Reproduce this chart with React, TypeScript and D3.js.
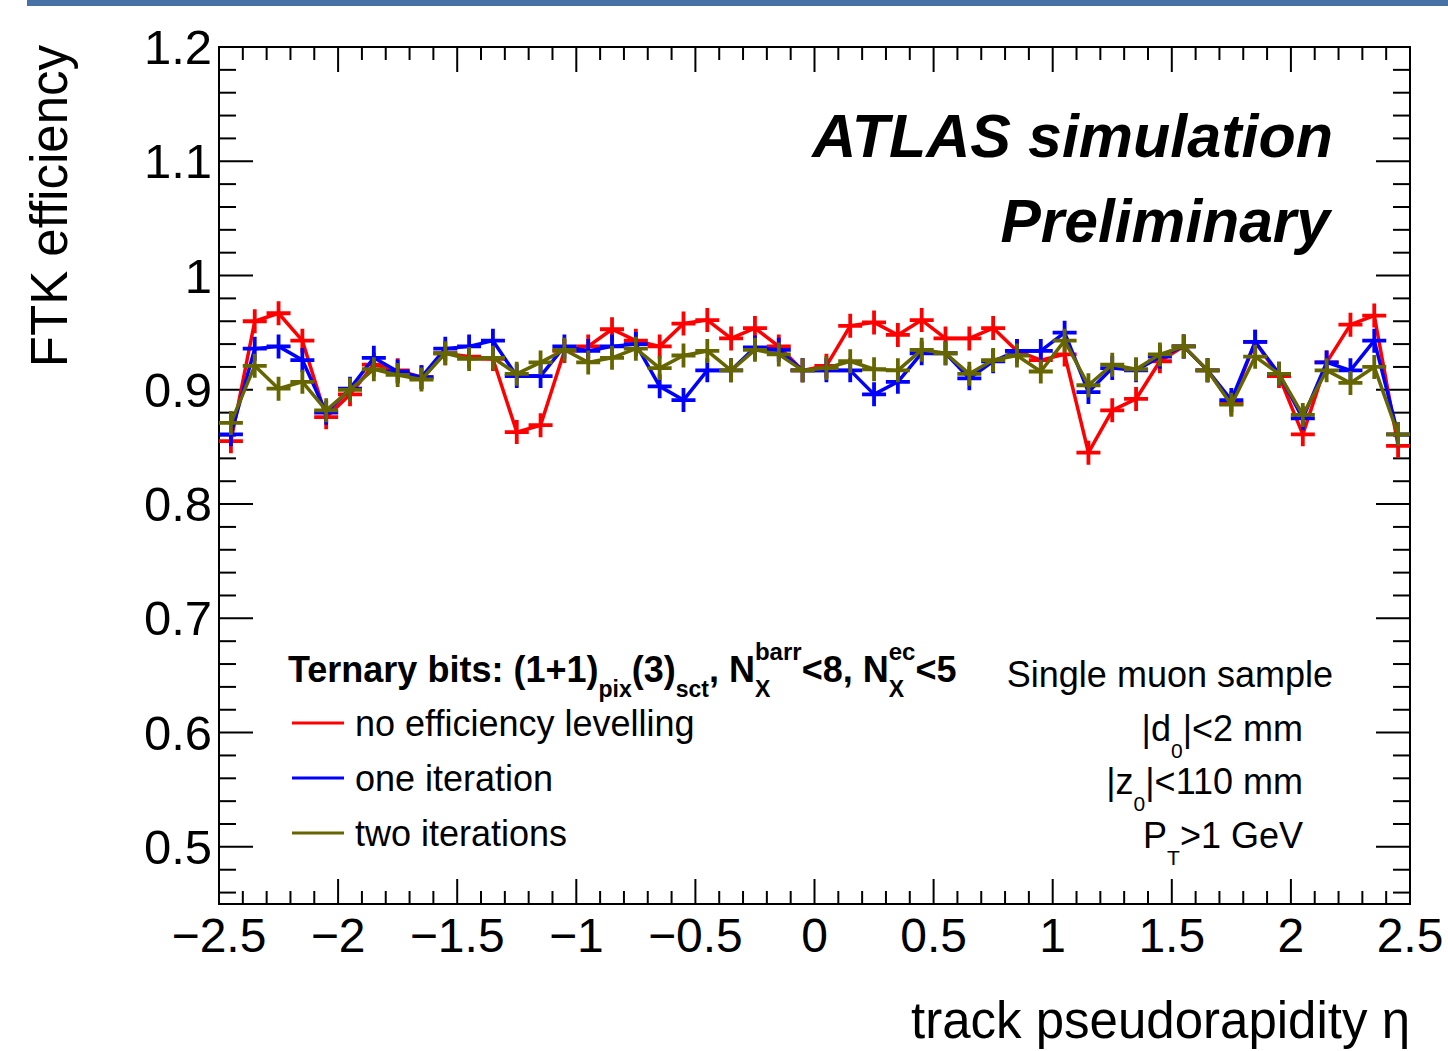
import React, { useEffect, useRef } from 'react';
import * as d3 from 'd3';

// bin centres in eta
const etaCenters = [
  -2.45, -2.35, -2.25, -2.15, -2.05, -1.95, -1.85, -1.75, -1.65, -1.55,
  -1.45, -1.35, -1.25, -1.15, -1.05, -0.95, -0.85, -0.75, -0.65, -0.55,
  -0.45, -0.35, -0.25, -0.15, -0.05, 0.05, 0.15, 0.25, 0.35, 0.45,
  0.55, 0.65, 0.75, 0.85, 0.95, 1.05, 1.15, 1.25, 1.35, 1.45,
  1.55, 1.65, 1.75, 1.85, 1.95, 2.05, 2.15, 2.25, 2.35, 2.45,
];

const noLevelling = [
  0.855, 0.960, 0.967, 0.943, 0.876, 0.896, 0.922, 0.917, 0.911, 0.932,
  0.929, 0.927, 0.863, 0.869, 0.934, 0.938, 0.953, 0.943, 0.938, 0.958,
  0.961, 0.945, 0.954, 0.938, 0.917, 0.921, 0.956, 0.959, 0.948, 0.961,
  0.945, 0.945, 0.954, 0.934, 0.926, 0.931, 0.845, 0.882, 0.892, 0.925,
  0.938, 0.917, 0.888, 0.942, 0.912, 0.861, 0.924, 0.957, 0.965, 0.851,
];

const oneIteration = [
  0.861, 0.936, 0.938, 0.926, 0.880, 0.901, 0.928, 0.916, 0.911, 0.936,
  0.938, 0.943, 0.912, 0.912, 0.938, 0.934, 0.938, 0.940, 0.903, 0.891,
  0.917, 0.917, 0.937, 0.935, 0.917, 0.917, 0.917, 0.896, 0.907, 0.932,
  0.932, 0.910, 0.925, 0.934, 0.934, 0.950, 0.898, 0.919, 0.917, 0.929,
  0.938, 0.917, 0.891, 0.942, 0.914, 0.875, 0.924, 0.917, 0.943, 0.861,
];

const twoIterations = [
  0.871, 0.921, 0.901, 0.907, 0.882, 0.900, 0.918, 0.913, 0.909, 0.932,
  0.927, 0.928, 0.914, 0.924, 0.935, 0.924, 0.928, 0.936, 0.919, 0.930,
  0.934, 0.917, 0.935, 0.931, 0.917, 0.919, 0.925, 0.918, 0.917, 0.935,
  0.932, 0.914, 0.926, 0.930, 0.916, 0.943, 0.904, 0.922, 0.918, 0.931,
  0.938, 0.917, 0.887, 0.929, 0.914, 0.878, 0.917, 0.906, 0.920, 0.861,
];

const seriesNames = ['no efficiency levelling', 'one iteration', 'two iterations'];
const seriesColors = ['#ff0000', '#0000ff', '#666600'];

const xMajorTicks = [-2.5, -2, -1.5, -1, -0.5, 0, 0.5, 1, 1.5, 2, 2.5];
const xTickLabels = ['\u22122.5', '\u22122', '\u22121.5', '\u22121', '\u22120.5', '0', '0.5', '1', '1.5', '2', '2.5'];
const yMajorTicks = [0.5, 0.6, 0.7, 0.8, 0.9, 1.0, 1.1, 1.2];
const yTickLabels = ['0.5', '0.6', '0.7', '0.8', '0.9', '1', '1.1', '1.2'];

const FONT = "'Liberation Sans', Arial, Helvetica, sans-serif";

// draw a run of text pieces with sub/superscripts, measuring as we go
function richText(parent, x, y, parts, opts) {
  const grp = parent.append('g')
    .attr('font-family', FONT)
    .attr('font-size', opts.size)
    .attr('font-weight', opts.weight || 'normal')
    .attr('fill', '#000');
  let cx = 0;
  let prevX = 0;
  parts.forEach(p => {
    const startX = p.stack ? prevX : cx;
    const el = grp.append('text')
      .attr('x', startX)
      .attr('y', p.dy || 0)
      .attr('font-size', p.size || opts.size)
      .text(p.t);
    const w = el.node().getComputedTextLength();
    if (p.stack) {
      cx = Math.max(cx, startX + w);
    } else {
      prevX = startX;
      cx = startX + w;
    }
  });
  const tx = opts.anchor === 'end' ? x - cx : x;
  grp.attr('transform', `translate(${tx},${y})`);
  return grp;
}

const App = () => {
  const svgRef = useRef(null);

  useEffect(() => {
    const svg = d3.select(svgRef.current);
    svg.selectAll('*').remove();

    const left = 219, right = 1410, top = 47, bottom = 904;

    const xScale = d3.scaleLinear().domain([-2.5, 2.5]).range([left, right]);
    const yScale = d3.scaleLinear().domain([0.45, 1.2]).range([bottom, top]);

    // blue band at top
    svg.append('rect')
      .attr('x', 27).attr('y', 0)
      .attr('width', 1448 - 27).attr('height', 6)
      .attr('fill', '#4872a5');

    // ticks
    const xMinor = d3.range(-2.5, 2.5001, 0.1).map(v => +v.toFixed(2));
    const yMinor = d3.range(0.46, 1.2001, 0.02).map(v => +v.toFixed(2));
    const isMajor = (v, step) => Math.abs(v / step - Math.round(v / step)) < 1e-6;

    const ticks = svg.append('g').attr('stroke', '#000').attr('stroke-width', 2);
    xMinor.forEach(v => {
      const len = isMajor(v, 0.5) ? 25 : 13;
      const px = xScale(v);
      ticks.append('line').attr('x1', px).attr('x2', px).attr('y1', bottom).attr('y2', bottom - len);
      ticks.append('line').attr('x1', px).attr('x2', px).attr('y1', top).attr('y2', top + len);
    });
    yMinor.forEach(v => {
      const len = isMajor(v, 0.1) ? 34 : 17;
      const py = yScale(v);
      ticks.append('line').attr('x1', left).attr('x2', left + len).attr('y1', py).attr('y2', py);
      ticks.append('line').attr('x1', right).attr('x2', right - len).attr('y1', py).attr('y2', py);
    });

    // frame
    svg.append('rect')
      .attr('x', left).attr('y', top)
      .attr('width', right - left).attr('height', bottom - top)
      .attr('fill', 'none')
      .attr('stroke', '#000')
      .attr('stroke-width', 2);

    // tick labels
    svg.append('g')
      .selectAll('text')
      .data(xMajorTicks)
      .enter()
      .append('text')
      .attr('x', d => xScale(d))
      .attr('y', 952)
      .attr('text-anchor', 'middle')
      .attr('font-family', FONT)
      .attr('font-size', 48)
      .text((d, i) => xTickLabels[i]);

    svg.append('g')
      .selectAll('text')
      .data(yMajorTicks)
      .enter()
      .append('text')
      .attr('x', 212)
      .attr('y', d => yScale(d) + 17)
      .attr('text-anchor', 'end')
      .attr('font-family', FONT)
      .attr('font-size', 49)
      .text((d, i) => yTickLabels[i]);

    // axis titles
    svg.append('text')
      .attr('transform', 'translate(67,45) rotate(-90)')
      .attr('text-anchor', 'end')
      .attr('font-family', FONT)
      .attr('font-size', 51)
      .text('FTK efficiency');

    svg.append('text')
      .attr('x', 1410)
      .attr('y', 1038)
      .attr('text-anchor', 'end')
      .attr('font-family', FONT)
      .attr('font-size', 51)
      .text('track pseudorapidity \u03b7');

    // series
    const allSeries = [noLevelling, oneIteration, twoIterations];
    const line = d3.line()
      .x((d, i) => xScale(etaCenters[i]))
      .y(d => yScale(d));

    allSeries.forEach((vals, s) => {
      const g = svg.append('g');
      g.append('path')
        .datum(vals)
        .attr('fill', 'none')
        .attr('stroke', seriesColors[s])
        .attr('stroke-width', 3.5)
        .attr('stroke-linejoin', 'round')
        .attr('d', line);
      g.selectAll('.mk')
        .data(vals)
        .enter()
        .append('path')
        .attr('class', 'mk')
        .attr('d', (d, i) => {
          const cx = xScale(etaCenters[i]);
          const cy = yScale(d);
          return `M${cx - 12},${cy}H${cx + 12}M${cx},${cy - 12}V${cy + 12}`;
        })
        .attr('stroke', seriesColors[s])
        .attr('stroke-width', 3.8)
        .attr('fill', 'none');
    });

    // ATLAS label
    svg.append('text')
      .attr('x', 1333).attr('y', 157)
      .attr('text-anchor', 'end')
      .attr('font-family', FONT)
      .attr('font-size', 61)
      .attr('font-weight', 'bold')
      .attr('font-style', 'italic')
      .text('ATLAS simulation');
    svg.append('text')
      .attr('x', 1330).attr('y', 242)
      .attr('text-anchor', 'end')
      .attr('font-family', FONT)
      .attr('font-size', 60.5)
      .attr('font-weight', 'bold')
      .attr('font-style', 'italic')
      .text('Preliminary');

    // legend header
    richText(svg, 288, 682, [
      { t: 'Ternary bits: (1+1)' },
      { t: 'pix', dy: 15, size: 23 },
      { t: '(3)' },
      { t: 'sct', dy: 15, size: 23 },
      { t: ', N' },
      { t: 'X', dy: 15, size: 23 },
      { t: 'barr', dy: -22, size: 24, stack: true },
      { t: '<8, N' },
      { t: 'X', dy: 15, size: 23 },
      { t: 'ec', dy: -22, size: 24, stack: true },
      { t: '<5' },
    ], { size: 36, weight: 'bold' });

    // legend entries
    seriesNames.forEach((name, i) => {
      const ly = 723 + i * 55;
      svg.append('line')
        .attr('x1', 292).attr('x2', 344)
        .attr('y1', ly).attr('y2', ly)
        .attr('stroke', seriesColors[i])
        .attr('stroke-width', 3);
      svg.append('text')
        .attr('x', 355).attr('y', ly + 13)
        .attr('font-family', FONT)
        .attr('font-size', 36)
        .text(name);
    });

    // sample info
    richText(svg, 1333, 687, [{ t: 'Single muon sample' }], { size: 36, anchor: 'end' });
    richText(svg, 1303, 741, [
      { t: '|d' }, { t: '0', dy: 17, size: 21 }, { t: '|<2 mm' },
    ], { size: 36, anchor: 'end' });
    richText(svg, 1303, 794, [
      { t: '|z' }, { t: '0', dy: 17, size: 21 }, { t: '|<110 mm' },
    ], { size: 36, anchor: 'end' });
    richText(svg, 1303, 848, [
      { t: 'P' }, { t: 'T', dy: 17, size: 21 }, { t: '>1 GeV' },
    ], { size: 36, anchor: 'end' });
  }, []);

  return (
    <svg
      ref={svgRef}
      width={1448}
      height={1051}
      style={{ position: 'absolute', left: 0, top: 0, background: '#fff' }}
    />
  );
};

export default App;
